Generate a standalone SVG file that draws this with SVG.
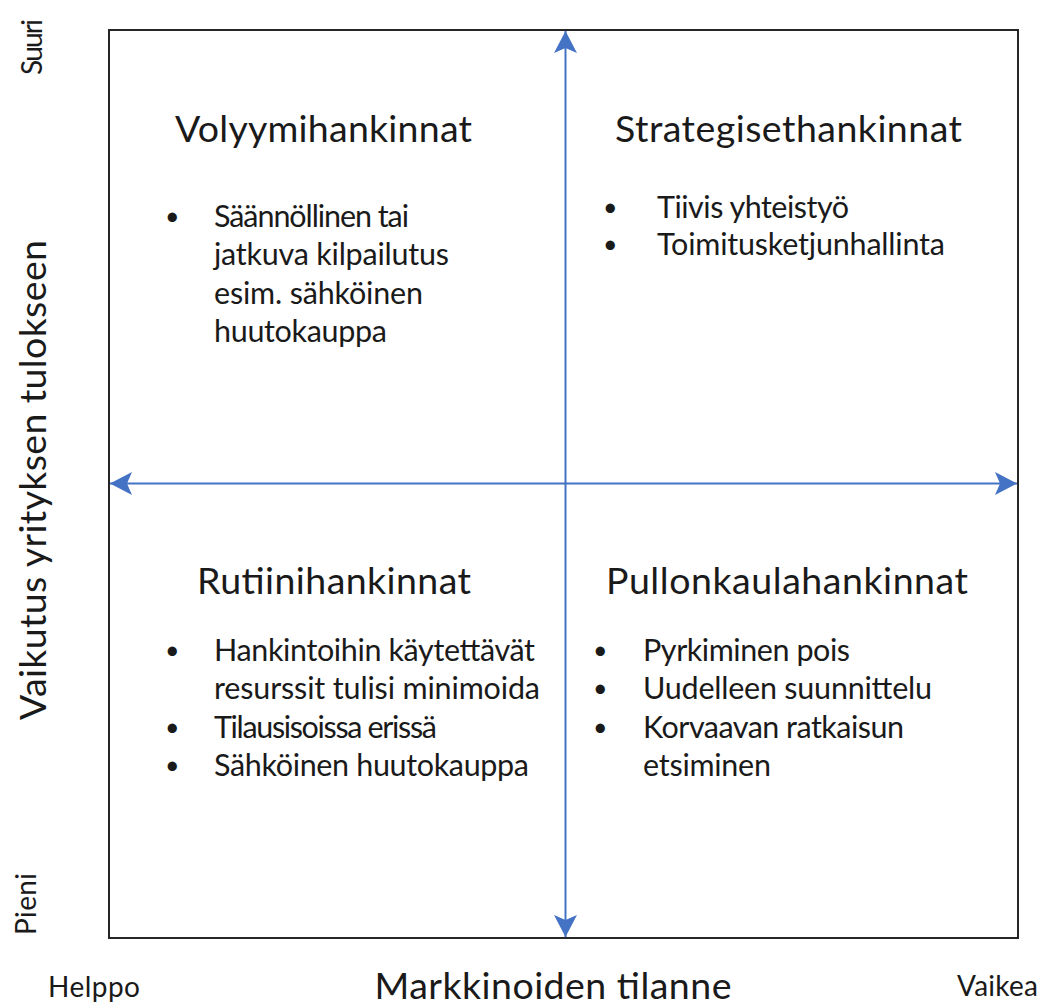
<svg xmlns="http://www.w3.org/2000/svg" width="1048" height="1007" viewBox="0 0 1048 1007">
<style>
text{font-family:Lato,"Liberation Sans",sans-serif;fill:#1a1a1a}
.h{font-size:37.5px}
.b{font-size:30.5px}
.d{font-size:25px}
.ax{font-size:37.5px}
.sm{font-size:28px}
.frame{fill:none;stroke:#262626;stroke-width:2}
.arr{fill:none;stroke:#4472C4;stroke-width:2}
</style>
<defs>
<marker id="ah" markerUnits="userSpaceOnUse" markerWidth="26" markerHeight="26" viewBox="-23 -13 26 26" refX="0" refY="0" orient="auto-start-reverse">
<path d="M0,0 L-22,-11.5 L-17,0 L-22,11.5 Z" fill="#4472C4"/>
</marker>
</defs>
<rect class="frame" x="109" y="30" width="909" height="908"/>
<g id="connectors">
<path class="arr" d="M565.5,31 L565.5,937" marker-start="url(#ah)" marker-end="url(#ah)"/>
<path class="arr" d="M110,483.5 L1017,483.5" marker-start="url(#ah)" marker-end="url(#ah)"/>
</g>
<g id="q-volyymi">
<text class="h" x="175" y="142" textLength="297">Volyymihankinnat</text>
<text class="d" x="165" y="225">•</text>
<text class="b" x="214" y="227" textLength="195">Säännöllinen tai</text>
<text class="b" x="214" y="265" textLength="235">jatkuva kilpailutus</text>
<text class="b" x="214" y="304" textLength="209">esim. sähköinen</text>
<text class="b" x="214" y="342" textLength="173">huutokauppa</text>
</g>
<g id="q-strategiset">
<text class="h" x="615" y="142" textLength="347">Strategisethankinnat</text>
<text class="d" x="603" y="216">•</text>
<text class="b" x="657" y="218" textLength="192">Tiivis yhteistyö</text>
<text class="d" x="603" y="253">•</text>
<text class="b" x="657" y="255" textLength="288">Toimitusketjunhallinta</text>
</g>
<g id="q-rutiini">
<text class="h" x="197" y="594" textLength="274">Rutiinihankinnat</text>
<text class="d" x="165" y="659">•</text>
<text class="b" x="214" y="661" textLength="321">Hankintoihin käytettävät</text>
<text class="b" x="214" y="699" textLength="326">resurssit tulisi minimoida</text>
<text class="d" x="165" y="736">•</text>
<text class="b" x="214" y="738" textLength="223">Tilausisoissa erissä</text>
<text class="d" x="165" y="774">•</text>
<text class="b" x="214" y="776" textLength="315">Sähköinen huutokauppa</text>
</g>
<g id="q-pullonkaula">
<text class="h" x="606" y="594" textLength="362">Pullonkaulahankinnat</text>
<text class="d" x="593" y="659">•</text>
<text class="b" x="643" y="661" textLength="207">Pyrkiminen pois</text>
<text class="d" x="593" y="697">•</text>
<text class="b" x="643" y="699" textLength="289">Uudelleen suunnittelu</text>
<text class="d" x="593" y="736">•</text>
<text class="b" x="643" y="738" textLength="261">Korvaavan ratkaisun</text>
<text class="b" x="643" y="776" textLength="128">etsiminen</text>
</g>
<g id="axis-y">
<text class="ax" text-anchor="middle" transform="translate(46,480) rotate(-90)" textLength="480">Vaikutus yrityksen tulokseen</text>
<text class="sm" text-anchor="middle" transform="translate(42,47) rotate(-90)" textLength="56">Suuri</text>
<text class="sm" text-anchor="middle" transform="translate(36,904) rotate(-90)" textLength="62">Pieni</text>
</g>
<g id="axis-x">
<text class="ax" x="553" y="999" text-anchor="middle" textLength="357">Markkinoiden tilanne</text>
<text class="sm" x="48" y="997" textLength="92">Helppo</text>
<text class="sm" x="957" y="996" textLength="81">Vaikea</text>
</g>
</svg>
